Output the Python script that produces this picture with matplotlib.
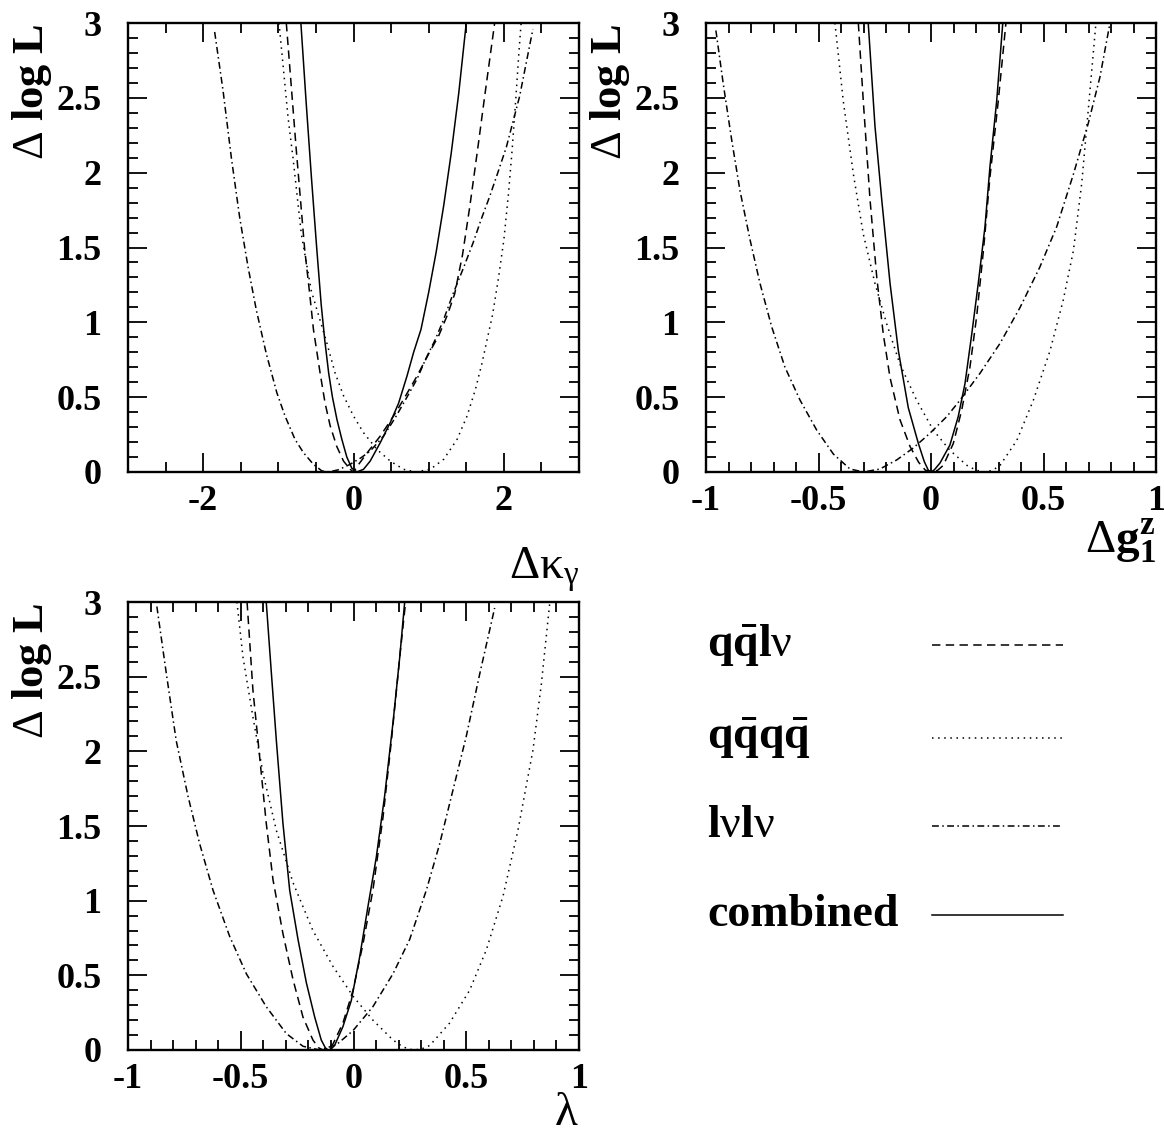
import numpy as np
import matplotlib.pyplot as plt
from matplotlib.ticker import MultipleLocator, FuncFormatter

plt.rcParams['font.family'] = ['Liberation Serif', 'DejaVu Serif']
plt.rcParams['font.weight'] = 'bold'
plt.rcParams['mathtext.fontset'] = 'custom'
plt.rcParams['mathtext.rm'] = 'Liberation Serif:weight=normal'
plt.rcParams['mathtext.it'] = 'Liberation Serif:italic:weight=normal'
plt.rcParams['mathtext.bf'] = 'Liberation Serif:weight=bold'
plt.rcParams['axes.unicode_minus'] = False

# ---- Delta kappa_gamma panel ----
kg_qqlv_x = [-0.894, -0.761, -0.650, -0.585, -0.533, -0.444, -0.378, -0.311, -0.222, -0.133, -0.044, 0.0,
             0.067, 0.2, 0.356, 0.533, 0.667, 0.844, 1.0, 1.133, 1.25, 1.346, 1.45, 1.546, 1.65, 1.745, 1.878]
kg_qqlv_y = [3.0, 2.15, 1.49, 1.2, 0.953, 0.66, 0.46, 0.31, 0.17, 0.073, 0.018, 0.0,
             0.05, 0.14, 0.24, 0.374, 0.486, 0.64, 0.79, 0.91, 1.05, 1.19, 1.45, 1.77, 2.15, 2.51, 3.0]
kg_qqqq_x = [-0.991, -0.871, -0.805, -0.694, -0.561, -0.356, -0.244, -0.133, 0.0, 0.133, 0.311, 0.489, 0.667, 0.822,
             1.022, 1.2, 1.378, 1.511, 1.622, 1.711, 1.778, 1.85, 1.93, 2.0, 2.06, 2.11, 2.16, 2.2, 2.23]
kg_qqqq_y = [3.0, 2.37, 2.10, 1.59, 1.21, 0.864, 0.66, 0.51, 0.374, 0.263, 0.151, 0.073, 0.018, 0.0,
             0.018, 0.085, 0.218, 0.374, 0.552, 0.73, 0.886, 1.05, 1.3, 1.55, 1.85, 2.15, 2.5, 2.8, 3.0]
kg_lvlv_x = [-1.847, -1.736, -1.625, -1.514, -1.403, -1.292, -1.16, -1.02, -0.911, -0.778, -0.667, -0.533, -0.42, -0.33,
             -0.2, -0.05, 0.1, 0.222, 0.40, 0.556, 0.711, 0.844, 0.956, 1.089, 1.2, 1.324, 1.46, 1.590, 1.70, 1.811,
             1.92, 2.033, 2.21, 2.387]
kg_lvlv_y = [2.94, 2.55, 2.10, 1.70, 1.37, 1.08, 0.79, 0.53, 0.374, 0.218, 0.13, 0.051, 0.007, 0.0,
             0.015, 0.05, 0.095, 0.14, 0.24, 0.363, 0.50, 0.62, 0.75, 0.886, 1.02, 1.19, 1.36, 1.53, 1.69, 1.84,
             2.0, 2.17, 2.51, 2.96]
kg_comb_x = [-0.70, -0.63, -0.56, -0.49, -0.43, -0.38, -0.33, -0.28, -0.22, -0.156, -0.089, -0.022, 0.044,
             0.133, 0.222, 0.356, 0.489, 0.60, 0.711, 0.80, 0.898, 1.0, 1.1, 1.2, 1.3, 1.4, 1.5]
kg_comb_y = [3.0, 2.47, 1.97, 1.5, 1.12, 0.87, 0.66, 0.50, 0.35, 0.22, 0.10, 0.025, 0.0,
             0.018, 0.073, 0.196, 0.33, 0.46, 0.64, 0.80, 0.953, 1.2, 1.47, 1.78, 2.13, 2.53, 3.0]

# ---- Delta g1z panel ----
g1_qqlv_x = [-0.323, -0.301, -0.271, -0.241, -0.212, -0.182, -0.138, -0.093, -0.055, -0.025, 0.007,
             0.03, 0.055, 0.099, 0.136, 0.173, 0.203, 0.233, 0.262, 0.299, 0.333]
g1_qqlv_y = [3.0, 2.48, 1.82, 1.30, 0.92, 0.63, 0.35, 0.17, 0.065, 0.012, 0.0,
             0.012, 0.045, 0.19, 0.41, 0.70, 1.04, 1.48, 1.97, 2.48, 3.0]
g1_qqqq_x = [-0.427, -0.390, -0.345, -0.301, -0.249, -0.197, -0.138, -0.064, 0.010, 0.084, 0.159, 0.20, 0.24,
             0.275, 0.307, 0.381, 0.455, 0.529, 0.588, 0.633, 0.670, 0.699, 0.733]
g1_qqqq_y = [3.0, 2.48, 1.99, 1.59, 1.26, 0.99, 0.72, 0.48, 0.28, 0.145, 0.045, 0.012, 0.0,
             0.012, 0.045, 0.21, 0.48, 0.81, 1.15, 1.48, 1.93, 2.42, 3.0]
g1_lvlv_x = [-0.956, -0.923, -0.886, -0.849, -0.804, -0.760, -0.708, -0.649, -0.582, -0.508, -0.434, -0.36, -0.30,
             -0.227, -0.153, -0.079, -0.004, 0.070, 0.129, 0.218, 0.307, 0.396, 0.484, 0.559, 0.633, 0.699, 0.751, 0.793]
g1_lvlv_y = [2.95, 2.59, 2.22, 1.88, 1.55, 1.26, 0.97, 0.70, 0.48, 0.28, 0.12, 0.02, 0.0,
             0.02, 0.08, 0.16, 0.26, 0.37, 0.48, 0.66, 0.86, 1.10, 1.37, 1.64, 1.99, 2.33, 2.64, 2.98]
g1_comb_x = [-0.279, -0.249, -0.219, -0.182, -0.145, -0.101, -0.056, -0.03, -0.012, 0.0,
             0.015, 0.04, 0.084, 0.121, 0.151, 0.181, 0.210, 0.240, 0.262, 0.292, 0.319]
g1_comb_y = [3.0, 2.31, 1.82, 1.26, 0.81, 0.43, 0.19, 0.07, 0.012, 0.0,
             0.015, 0.06, 0.18, 0.37, 0.59, 0.92, 1.26, 1.64, 2.04, 2.48, 3.0]

# ---- lambda panel ----
la_qqlv_x = [-0.472, -0.446, -0.416, -0.387, -0.357, -0.313, -0.268, -0.224, -0.180, -0.155, -0.135,
             -0.115, -0.091, -0.047, -0.002, 0.042, 0.086, 0.131, 0.168, 0.205, 0.231]
la_qqlv_y = [3.0, 2.41, 1.96, 1.52, 1.14, 0.78, 0.47, 0.22, 0.067, 0.015, 0.0,
             0.006, 0.04, 0.18, 0.40, 0.71, 1.07, 1.56, 2.07, 2.63, 3.0]
la_qqqq_x = [-0.517, -0.490, -0.446, -0.401, -0.342, -0.268, -0.180, -0.091, -0.002, 0.086, 0.175, 0.22, 0.264,
             0.30, 0.338, 0.426, 0.515, 0.589, 0.663, 0.729, 0.796, 0.833, 0.870]
la_qqqq_y = [3.0, 2.63, 2.23, 1.85, 1.47, 1.12, 0.80, 0.56, 0.36, 0.20, 0.067, 0.02, 0.0,
             0.006, 0.03, 0.18, 0.40, 0.67, 1.03, 1.47, 2.01, 2.45, 2.99]
la_lvlv_x = [-0.872, -0.830, -0.786, -0.734, -0.682, -0.623, -0.549, -0.475, -0.387, -0.298, -0.224, -0.15,
             -0.076, -0.002, 0.086, 0.175, 0.249, 0.323, 0.382, 0.441, 0.500, 0.560, 0.626]
la_lvlv_y = [2.97, 2.52, 2.07, 1.70, 1.38, 1.07, 0.76, 0.51, 0.29, 0.11, 0.025, 0.0,
             0.035, 0.13, 0.29, 0.51, 0.74, 1.07, 1.38, 1.74, 2.10, 2.52, 2.96]
la_comb_x = [-0.387, -0.364, -0.342, -0.313, -0.283, -0.246, -0.209, -0.172, -0.143, -0.125, -0.113,
             -0.10, -0.084, -0.047, -0.010, 0.027, 0.064, 0.101, 0.138, 0.175, 0.205, 0.227]
la_comb_y = [3.0, 2.52, 2.07, 1.52, 1.07, 0.74, 0.45, 0.22, 0.067, 0.015, 0.0,
             0.006, 0.03, 0.156, 0.33, 0.62, 0.96, 1.29, 1.70, 2.19, 2.63, 3.0]

channels = [r'$\mathbf{q\bar{q}l}\mathrm{\nu}$', r'$\mathbf{q\bar{q}q\bar{q}}$',
            r'$\mathbf{l}\mathrm{\nu}\mathbf{l}\mathrm{\nu}$', 'combined']
styles = [(0, (5.5, 3.5)), (0, (1.0, 3.0)), (0, (4.5, 2.2, 1.0, 2.2)), '-']

fig = plt.figure(figsize=(11.64, 11.36), dpi=100)
W, H = 1164, 1136


def make_axes(l, t, r, b):
    return fig.add_axes([l / W, 1 - b / H, (r - l) / W, (b - t) / H])


def style_axes(ax, xlim, xmajor, xminor, xlabel, xlab_size, xlab_y):
    ax.set_xlim(xlim)
    ax.set_ylim(0, 3)
    ax.xaxis.set_major_locator(MultipleLocator(xmajor))
    ax.xaxis.set_minor_locator(MultipleLocator(xminor))
    ax.yaxis.set_major_locator(MultipleLocator(0.5))
    ax.yaxis.set_minor_locator(MultipleLocator(0.1))
    fmt = FuncFormatter(lambda v, p: f'{v:g}')
    ax.xaxis.set_major_formatter(fmt)
    ax.yaxis.set_major_formatter(fmt)
    ax.tick_params(which='both', direction='in', top=True, right=True, width=1.3, labelsize=26)
    ax.tick_params(which='major', length=13.5)
    ax.tick_params(which='minor', length=7)
    ax.tick_params(axis='x', pad=9)
    ax.tick_params(axis='y', pad=19)
    for s in ax.spines.values():
        s.set_linewidth(1.7)
    ax.set_ylabel(r'$\Delta\ \mathbf{log\ L}$', fontsize=32, loc='top')
    ax.yaxis.set_label_coords(-0.165, 1.0)
    ax.set_xlabel(xlabel, fontsize=xlab_size, loc='right')
    ax.xaxis.set_label_coords(1.0, xlab_y)


def draw(ax, curves):
    for (x, y), ls in zip(curves, styles):
        ax.plot(x, y, color='black', lw=1.1, linestyle=ls)


ax1 = make_axes(128, 23, 579, 472)
draw(ax1, [(kg_qqlv_x, kg_qqlv_y), (kg_qqqq_x, kg_qqqq_y), (kg_lvlv_x, kg_lvlv_y), (kg_comb_x, kg_comb_y)])
style_axes(ax1, (-3, 3), 2, 0.5, r'$\Delta\mathrm{\kappa}_{\mathrm{\gamma}}$', 34, -0.165)

ax2 = make_axes(706, 23, 1156, 472)
draw(ax2, [(g1_qqlv_x, g1_qqlv_y), (g1_qqqq_x, g1_qqqq_y), (g1_lvlv_x, g1_lvlv_y), (g1_comb_x, g1_comb_y)])
style_axes(ax2, (-1, 1), 0.5, 0.1, r'$\Delta\mathbf{g}_{\mathbf{1}}^{\mathbf{z}}$', 34, -0.1)

ax3 = make_axes(128, 602, 579, 1050)
draw(ax3, [(la_qqlv_x, la_qqlv_y), (la_qqqq_x, la_qqqq_y), (la_lvlv_x, la_lvlv_y), (la_comb_x, la_comb_y)])
style_axes(ax3, (-1, 1), 0.5, 0.1, r'$\mathrm{\lambda}$', 34, -0.095)

# legend block on the lower right
axl = make_axes(700, 600, 1100, 960)
axl.set_xlim(700, 1100)
axl.set_ylim(960, 600)
axl.axis('off')
rows = [645, 738, 826, 915]
for lab, ls, yr in zip(channels, styles, rows):
    axl.text(707, yr, lab, fontsize=33, fontweight='bold', va='center', ha='left')
    axl.plot([932, 1063], [yr, yr], color='black', lw=1.1, linestyle=ls)

fig.savefig('out.png', dpi=100)
